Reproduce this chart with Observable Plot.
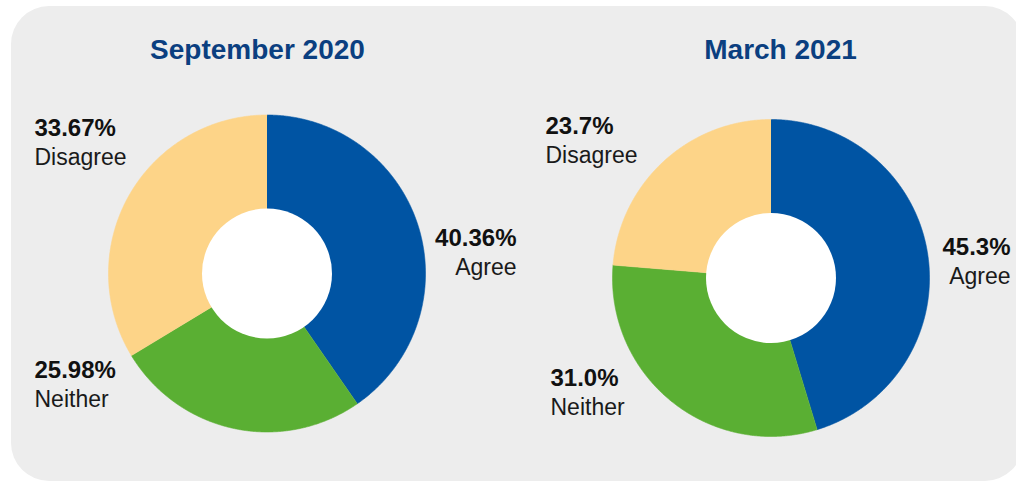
<!DOCTYPE html>
<html>
<head>
<meta charset="utf-8">
<script src="https://cdn.jsdelivr.net/npm/d3@7"></script>
<script src="https://cdn.jsdelivr.net/npm/@observablehq/plot@0.6"></script>
<style>
  html, body { margin: 0; padding: 0; background: #ffffff; }
  #wrap { position: relative; width: 1016px; height: 483px; overflow: hidden; font-family: "Liberation Sans", Arial, Helvetica, sans-serif; }
  #panel { position: absolute; left: 11px; top: 6px; width: 1012px; height: 475px; border-radius: 38px; background: #ededed; }
  #chart { position: absolute; left: 0; top: 0; }
</style>
</head>
<body>
<div id="wrap"><div id="panel"></div><div id="chart"></div></div>
<script>
// ---- data ----
const categories = ["Agree", "Neither", "Disagree"];
const titles = ["September 2020", "March 2021"];
const sep2020 = [40.36, 25.98, 33.67];
const mar2021 = [45.3, 31.0, 23.7];
const decimals = [2, 1];
const colors = ["#0054a3", "#5aaf33", "#fdd488"];

// ---- layout ----
const W = 1016, H = 483;
const R = 158.5, R0 = 65;
const charts = [
  { values: sep2020, cx: 266.5, cy: 273, tx: 257, ty: 58,
    lab: { Agree: [516, 245, "end"], Neither: [34, 377, "start"], Disagree: [34, 135, "start"] } },
  { values: mar2021, cx: 770.5, cy: 277.5, tx: 780, ty: 58,
    lab: { Agree: [1010, 254, "end"], Neither: [550, 385, "start"], Disagree: [545, 133, "start"] } }
];

// slice outlines from the values (geometry only)
const wedgeRows = [];
const pieLayout = d3.pie().sort(null).value(d => d);
charts.forEach((c, ci) => {
  pieLayout(c.values).forEach((a, i) => {
    const key = ci + "-" + categories[i];
    wedgeRows.push({ key, cat: categories[i], x: c.cx, y: c.cy });
    const n = Math.max(2, Math.ceil((a.endAngle - a.startAngle) / 0.005));
    for (let k = 0; k <= n; k++) {
      const t = a.startAngle + (a.endAngle - a.startAngle) * k / n;
      wedgeRows.push({ key, cat: categories[i], x: c.cx + R * Math.sin(t), y: c.cy - R * Math.cos(t) });
    }
  });
});

const holes = charts.map(c => ({ x: c.cx, y: c.cy }));
const titleRows = charts.map((c, ci) => ({ x: c.tx, y: c.ty, text: titles[ci] }));
const pctRows = [], nameRows = [];
charts.forEach((c, ci) => {
  categories.forEach((cat, i) => {
    const [x, y, anchor] = c.lab[cat];
    pctRows.push({ x, y, anchor, text: c.values[i].toFixed(decimals[ci]) + "%" });
    nameRows.push({ x, y: y + 29.5, anchor, text: cat });
  });
});

const plot = Plot.plot({
  width: W, height: H, margin: 0,
  x: { domain: [0, W], range: [0, W], axis: null },
  y: { domain: [0, H], range: [0, H], axis: null },
  color: { domain: categories, range: colors },
  style: { background: "transparent", fontFamily: "'Liberation Sans', Arial, Helvetica, sans-serif", overflow: "visible" },
  marks: [
    Plot.line(wedgeRows, { x: "x", y: "y", z: "key", fill: "cat", stroke: "cat", strokeWidth: 0.6, curve: "linear" }),
    Plot.dot(holes, { x: "x", y: "y", r: R0, fill: "#ffffff", stroke: "none" }),
    Plot.text(titleRows, { x: "x", y: "y", text: "text", fontSize: 28, fontWeight: "bold", fill: "#0b3f80", lineAnchor: "bottom", textAnchor: "middle" }),
    Plot.text(pctRows.filter(d => d.anchor === "start"), { x: "x", y: "y", text: "text", fontSize: 24, fontWeight: "bold", fill: "#111111", lineAnchor: "bottom", textAnchor: "start" }),
    Plot.text(pctRows.filter(d => d.anchor === "end"), { x: "x", y: "y", text: "text", fontSize: 24, fontWeight: "bold", fill: "#111111", lineAnchor: "bottom", textAnchor: "end" }),
    Plot.text(nameRows.filter(d => d.anchor === "start"), { x: "x", y: "y", text: "text", fontSize: 23, fill: "#1a1a1a", lineAnchor: "bottom", textAnchor: "start" }),
    Plot.text(nameRows.filter(d => d.anchor === "end"), { x: "x", y: "y", text: "text", fontSize: 23, fill: "#1a1a1a", lineAnchor: "bottom", textAnchor: "end" })
  ]
});
document.getElementById("chart").appendChild(plot);
</script>
</body>
</html>
